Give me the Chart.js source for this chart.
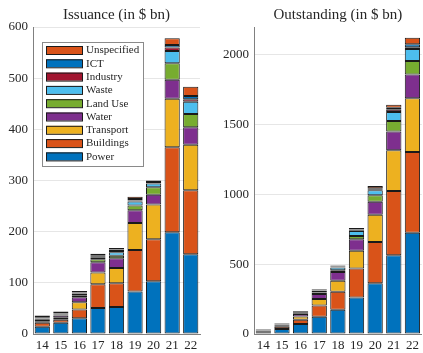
<!DOCTYPE html>
<html>
<head>
<meta charset="utf-8">
<script src="https://cdn.jsdelivr.net/npm/chart.js@4/dist/chart.umd.min.js"></script>
<style>
  html, body { margin: 0; padding: 0; background: #fff; }
  #wrap { position: relative; width: 423px; height: 353px; }
  #left { position: absolute; left: 0; top: 0; }
  #right { position: absolute; left: 211px; top: 0; }
</style>
</head>
<body>
<div id="wrap">
  <canvas id="left" width="211" height="353"></canvas>
  <canvas id="right" width="212" height="353"></canvas>
</div>
<script>
const years = ["14", "15", "16", "17", "18", "19", "20", "21", "22"];
const sectors = ["Power", "Buildings", "Transport", "Water", "Land Use", "Waste", "Industry", "ICT", "Unspecified"];
const sectorColors = ["#0072BD", "#D95319", "#EDB120", "#7E2F8E", "#77AC30", "#4DBEEE", "#A2142F", "#0072BD", "#D95319"];

// Issuance (in $ bn)
const issPower       = [14, 22, 31, 51, 53, 83, 103, 199, 156];
const issBuildings   = [8, 6, 17, 46, 46, 81, 82, 166, 125];
const issTransport   = [3, 4, 14, 23, 30, 53, 68, 95, 89];
const issWater       = [3, 4, 10, 20, 19, 25, 19, 37, 34];
const issLandUse     = [2, 2, 3, 6, 5, 9, 15, 32, 26];
const issWaste       = [1, 1, 3, 4, 7, 8, 7, 24, 24];
const issIndustry    = [1, 1, 1, 2, 2, 2, 1, 7, 5];
const issIct         = [1, 1, 2, 2, 3, 3, 2, 5, 6];
const issUnspecified = [3, 3, 3, 3, 3, 4, 3, 13, 18];

// Outstanding (in $ bn)
const outPower       = [12, 36, 71, 124, 174, 261, 364, 564, 726];
const outBuildings   = [8, 16, 31, 80, 128, 208, 295, 460, 578];
const outTransport   = [4, 8, 24, 46, 79, 128, 195, 293, 386];
const outWater       = [3, 6, 17, 36, 64, 82, 93, 135, 169];
const outLandUse     = [2, 3, 6, 11, 12, 23, 48, 74, 98];
const outWaste       = [2, 3, 6, 14, 19, 36, 36, 64, 86];
const outIndustry    = [1, 1, 2, 3, 3, 5, 6, 17, 11];
const outIct         = [1, 2, 2, 4, 5, 6, 8, 14, 22];
const outUnspecified = [3, 4, 5, 5, 6, 10, 16, 22, 47];

const issTicks = [0, 100, 200, 300, 400, 500, 600];
const outTicks = [0, 500, 1000, 1500, 2000];

const serif = "'Liberation Serif', 'DejaVu Serif', serif";
const textColor = "#262626";

function makeDatasets(series) {
  return series.map((data, i) => ({
    label: sectors[i],
    data,
    backgroundColor: sectorColors[i],
    borderColor: "#1a1a1a",
    borderWidth: 1,
    borderSkipped: false,
    barPercentage: 0.82,
    categoryPercentage: 1
  }));
}

const boxLegend = {
  id: "boxLegend",
  afterDatasetsDraw(chart, args, opts) {
    if (!opts.show) {
      return;
    }
    const ctx = chart.ctx;
    const x0 = 42, y0 = 42, w = 101, h = 124, step = 13.3;
    ctx.save();
    ctx.fillStyle = "#fff";
    ctx.fillRect(x0, y0, w, h);
    ctx.strokeStyle = "#8a8a8a";
    ctx.lineWidth = 1;
    ctx.strokeRect(x0 + 0.5, y0 + 0.5, w, h);
    ctx.font = "11px " + serif;
    ctx.textBaseline = "middle";
    const sets = chart.data.datasets.slice().reverse();
    sets.forEach((ds, i) => {
      const cy = 50 + i * step;
      ctx.fillStyle = ds.backgroundColor;
      ctx.fillRect(46, cy - 4, 36, 8);
      ctx.strokeStyle = "#1a1a1a";
      ctx.strokeRect(46.5, cy - 3.5, 36, 8);
      ctx.fillStyle = textColor;
      ctx.fillText(ds.label, 86, cy + 0.5);
    });
    ctx.restore();
  }
};

function makeChart(canvasId, title, series, tickValues, max, yWidth, padRight, showLegend) {
  return new Chart(document.getElementById(canvasId), {
    type: "bar",
    data: { labels: years, datasets: makeDatasets(series) },
    plugins: [boxLegend],
    options: {
      responsive: false,
      animation: false,
      devicePixelRatio: 1,
      layout: { padding: { right: padRight, left: 0, top: 0, bottom: 0 } },
      plugins: {
        legend: { display: false },
        tooltip: { enabled: false },
        title: {
          display: true,
          text: title,
          fullSize: false,
          color: textColor,
          font: { family: serif, size: 15, weight: "normal" },
          padding: { top: 6, bottom: 3 }
        },
        boxLegend: { show: showLegend }
      },
      scales: {
        x: {
          stacked: true,
          grid: { display: false, drawTicks: false },
          border: { color: "#808080" },
          ticks: {
            color: textColor,
            font: { family: serif, size: 13 },
            padding: 4,
            autoSkip: false,
            maxRotation: 0,
            minRotation: 0
          },
          afterFit: (s) => { s.height = 19; }
        },
        y: {
          stacked: true,
          min: 0,
          max: max,
          afterBuildTicks: (s) => { s.ticks = tickValues.map((v) => ({ value: v })); },
          grid: { color: "#e6e6e6", drawTicks: false },
          border: { color: "#808080" },
          ticks: {
            color: textColor,
            font: { family: serif, size: 13 },
            padding: 5,
            callback: (v) => String(v)
          },
          afterFit: (s) => { s.width = yWidth; }
        }
      }
    }
  });
}

makeChart("left", "Issuance (in $ bn)",
  [issPower, issBuildings, issTransport, issWater, issLandUse, issWaste, issIndustry, issIct, issUnspecified],
  issTicks, 600, 33, 11, true);

makeChart("right", "Outstanding (in $ bn)",
  [outPower, outBuildings, outTransport, outWater, outLandUse, outWaste, outIndustry, outIct, outUnspecified],
  outTicks, 2200, 43, 1, false);
</script>
</body>
</html>
